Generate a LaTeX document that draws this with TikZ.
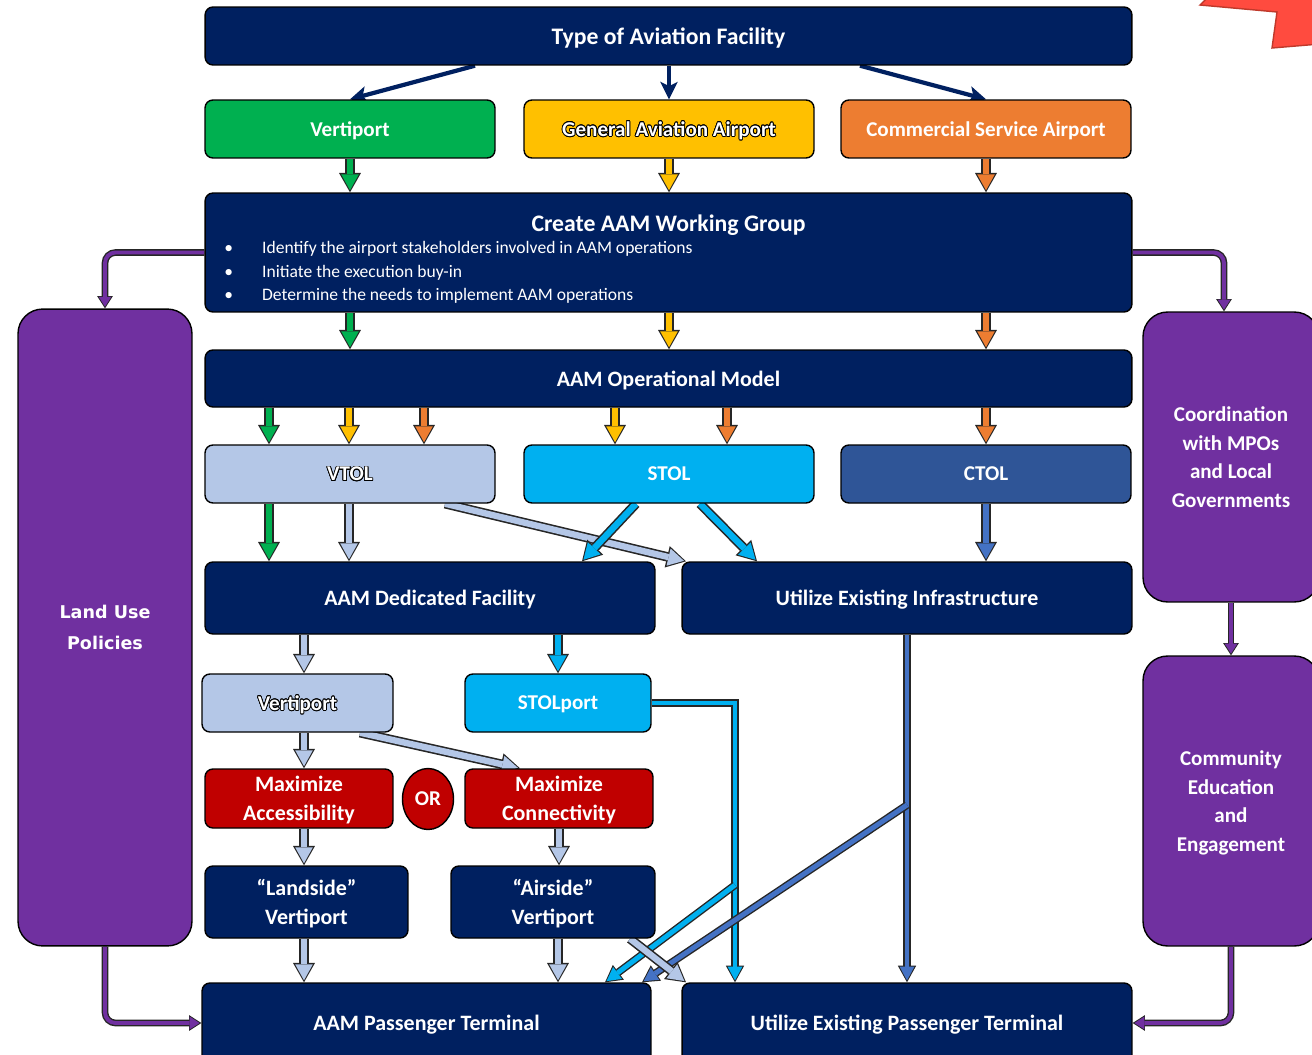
\documentclass[tikz,border=0pt]{standalone}
\usepackage{fontspec}
\setmainfont{Carlito}
\newfontfamily\landfont{DejaVu Sans}
\usepackage{xcolor}
\usepackage[copies]{contour}
\contourlength{0.45pt}
\usepackage{tikz}
\usetikzlibrary{arrows.meta}
\usetikzlibrary{shapes.geometric}
\usetikzlibrary{backgrounds}

\definecolor{navy}{HTML}{002060}
\definecolor{vgreen}{HTML}{00B050}
\definecolor{gayellow}{HTML}{FFC000}
\definecolor{csorange}{HTML}{ED7D31}
\definecolor{vlight}{HTML}{B4C7E7}
\definecolor{stolcyan}{HTML}{00B0F0}
\definecolor{ctolblue}{HTML}{2F5597}
\definecolor{ctolarrow}{HTML}{4472C4}
\definecolor{maxred}{HTML}{C00000}
\definecolor{purp}{HTML}{7030A0}
\definecolor{starred}{HTML}{FF4B3F}
\definecolor{starline}{HTML}{C0392B}

\newcommand{\ttlfont}{\bfseries\fontsize{13.5}{16}\selectfont}
\newcommand{\midfont}{\bfseries\fontsize{12.5}{16.4}\selectfont}
\newcommand{\boxfont}{\bfseries\fontsize{12}{16.4}\selectfont}
\newcommand{\itemfont}{\fontsize{10}{12}\selectfont}

% block arrow: dark outline first, coloured body on top
\newcommand{\blockarrow}[3][blk]{%
  \draw[#1out] #3;
  \draw[#1in, draw=#2] #3;}

\tikzset{
  box/.style={draw=black, line width=0.8pt, rounded corners=4.5pt, text=white,
    align=center, inner sep=0pt, text depth=0pt, font=\boxfont},
  row/.style={box, minimum width=5.8cm, minimum height=1.16cm},
  side/.style={box, fill=purp, rounded corners=14pt, minimum width=3.52cm, minimum height=5.8cm},
  item/.style={anchor=west, text=white, inner sep=0pt, font=\itemfont},
  navyarrow/.style={draw=navy, line width=2.4pt,
    -{Stealth[length=10pt,width=10pt,inset=2.5pt,line width=0pt]}},
  blkout/.style={line width=5.4pt, draw=black!85,
    -{Triangle[length=11pt,width=12.5pt,line width=0pt]}},
  blkin/.style={line width=3.6pt, shorten >=1.2pt,
    -{Triangle[length=9pt,width=10pt,line width=0pt]}},
  thinout/.style={line width=4.4pt, draw=black!85,
    -{Triangle[length=9.5pt,width=10.5pt,line width=0pt]}},
  thinin/.style={line width=2.8pt, shorten >=1.1pt,
    -{Triangle[length=7.8pt,width=8.4pt,line width=0pt]}},
  purout/.style={line width=3.8pt, draw=black!85, rounded corners=6pt,
    -{Triangle[length=7pt,width=9pt,line width=0pt]}},
  purin/.style={line width=2.2pt, rounded corners=6pt, shorten >=1pt,
    -{Triangle[length=5.6pt,width=7.2pt,line width=0pt]}},
}

\begin{document}
\begin{tikzpicture}[x=0.02cm, y=-0.02cm]
    \useasboundingbox (0,0) rectangle (1312,1055);

    % Corner shape
    \filldraw[fill=starred, draw=starline, line width=0.8pt] (1207,-2) -- (1200,5) -- (1277,12) -- (1272,48) -- (1320,44) -- (1320,-2) -- cycle;

    % Top of the tree
    \node[box, fill=navy, font=\ttlfont, minimum width=18.54cm, minimum height=1.16cm] (type) at (668.5,36) {Type of Aviation Facility};
    \node[row, fill=vgreen] (vport) at (350,129) {Vertiport};
    \node[row, fill=gayellow] (gaa) at (669,129) {\contour{black}{General Aviation Airport}};
    \node[row, fill=csorange] (csa) at (986,129) {Commercial Service Airport};

    % Working group
    \node[box, fill=navy, minimum width=18.54cm, minimum height=2.38cm] (wg) at (668.5,252.5) {};
    \node[text=white, font=\ttlfont, inner sep=0pt, text depth=0pt] (wgtitle) at (668.5,223) {Create AAM Working Group};
    \node[item] (wgitem1) at (224,249) {\makebox[21.5pt][l]{\textbullet}Identify the airport stakeholders involved in AAM operations};
    \node[item] (wgitem2) at (224,273) {\makebox[21.5pt][l]{\textbullet}Initiate the execution buy-in};
    \node[item] (wgitem3) at (224,296) {\makebox[21.5pt][l]{\textbullet}Determine the needs to implement AAM operations};

    % Operational model
    \node[box, fill=navy, font=\midfont, minimum width=18.54cm, minimum height=1.14cm] (aom) at (668.5,378.5) {AAM Operational Model};
    \node[row, fill=vlight] (vtol) at (350,474) {\contour{black}{VTOL}};
    \node[row, fill=stolcyan] (stol) at (669,474) {STOL};
    \node[row, fill=ctolblue] (ctol) at (986,474) {CTOL};

    % Facilities
    \node[box, fill=navy, font=\midfont, minimum width=9cm, minimum height=1.44cm] (adf) at (430,598) {AAM Dedicated Facility};
    \node[box, fill=navy, font=\midfont, minimum width=9cm, minimum height=1.44cm] (uei) at (907,598) {Utilize Existing Infrastructure};
    \node[box, fill=vlight, minimum width=3.82cm, minimum height=1.16cm] (vpt) at (297.5,703) {\contour{black}{Vertiport}};
    \node[box, fill=stolcyan, minimum width=3.72cm, minimum height=1.16cm] (stolpt) at (558,703) {STOLport};
    \node[box, fill=maxred, font=\midfont, minimum width=3.76cm, minimum height=1.18cm] (maxacc) at (299,798.5) {Maximize\\Accessibility};
    \node[ellipse, draw=black, line width=0.8pt, fill=maxred, text=white, font=\boxfont, inner sep=0pt, minimum width=1.02cm, minimum height=1.22cm] (orn) at (428,799) {OR};
    \node[box, fill=maxred, font=\midfont, minimum width=3.76cm, minimum height=1.18cm] (maxcon) at (559,798.5) {Maximize\\Connectivity};
    \node[box, fill=navy, font=\midfont, minimum width=4.06cm, minimum height=1.44cm] (landside) at (306.5,902) {``Landside''\\Vertiport};
    \node[box, fill=navy, font=\midfont, minimum width=4.08cm, minimum height=1.44cm] (airside) at (553,902) {``Airside''\\Vertiport};

    % Terminals
    \node[box, fill=navy, font=\midfont, minimum width=8.98cm, minimum height=1.6cm] (aampt) at (426.5,1023) {AAM Passenger Terminal};
    \node[box, fill=navy, font=\midfont, minimum width=9cm, minimum height=1.6cm] (uept) at (907,1023) {Utilize Existing Passenger Terminal};

    % Side columns
    \node[box, fill=purp, rounded corners=14pt, minimum width=3.48cm, minimum height=12.74cm, font={\landfont\bfseries\fontsize{10}{17.6}\selectfont}] (landuse) at (105,627.5) {Land Use\\Policies};
    \node[side] (coord) at (1231,457) {Coordination\\with MPOs\\and Local\\Governments};
    \node[side] (comm) at (1231,801) {Community\\Education\\and\\Engagement};

    \begin{scope}[on background layer]
    % Type -> kind of facility
    \draw[navyarrow] (475,0 |- type.south) -- (vport.north);
    \draw[navyarrow] (type.south -| gaa.north) -- (gaa.north);
    \draw[navyarrow] (860,0 |- type.south) -- (csa.north);

    % Kind of facility -> working group -> operational model
    \blockarrow{vgreen}{(vport.south) -- (vport.south |- wg.north)}
    \blockarrow{gayellow}{(gaa.south) -- (gaa.south |- wg.north)}
    \blockarrow{csorange}{(csa.south) -- (csa.south |- wg.north)}
    \blockarrow{vgreen}{(vport.south |- wg.south) -- (vport.south |- aom.north)}
    \blockarrow{gayellow}{(gaa.south |- wg.south) -- (gaa.south |- aom.north)}
    \blockarrow{csorange}{(csa.south |- wg.south) -- (csa.south |- aom.north)}

    % Operational model -> aircraft
    \blockarrow{vgreen}{(269,0 |- aom.south) -- (269,0 |- vtol.north)}
    \blockarrow{gayellow}{(349,0 |- aom.south) -- (349,0 |- vtol.north)}
    \blockarrow{csorange}{(424,0 |- aom.south) -- (424,0 |- vtol.north)}
    \blockarrow{gayellow}{(615,0 |- aom.south) -- (615,0 |- stol.north)}
    \blockarrow{csorange}{(727,0 |- aom.south) -- (727,0 |- stol.north)}
    \blockarrow{csorange}{(aom.south -| ctol.north) -- (ctol.north)}

    % Aircraft -> facilities
    \blockarrow{vgreen}{(269,0 |- vtol.south) -- (269,0 |- adf.north)}
    \blockarrow{vlight}{(349,0 |- vtol.south) -- (349,0 |- adf.north)}
    \blockarrow{vlight}{(445,0 |- vtol.south) -- (686,0 |- uei.north)}
    \blockarrow{stolcyan}{(636,0 |- stol.south) -- (582,0 |- adf.north)}
    \blockarrow{stolcyan}{(700,0 |- stol.south) -- (757,0 |- uei.north)}
    \blockarrow{ctolarrow}{(ctol.south) -- (ctol.south |- uei.north)}

    % Dedicated facility chain
    \blockarrow{vlight}{(304,0 |- adf.south) -- (304,0 |- vpt.north)}
    \blockarrow{stolcyan}{(stolpt.north |- adf.south) -- (stolpt.north)}
    \blockarrow{vlight}{(304,0 |- vpt.south) -- (304,0 |- maxacc.north)}
    \blockarrow{vlight}{(360,0 |- vpt.south) -- (520,0 |- maxcon.north)}
    \blockarrow{vlight}{(304,0 |- maxacc.south) -- (304,0 |- landside.north)}
    \blockarrow{vlight}{(maxcon.south) -- (maxcon.south |- airside.north)}
    \blockarrow{vlight}{(304,0 |- landside.south) -- (304,0 |- aampt.north)}
    \blockarrow{vlight}{(558,0 |- airside.south) -- (558,0 |- aampt.north)}

    % Long runs down to the terminals
    \coordinate (cybr) at (735,885);
    \coordinate (blbr) at (907,805);
    \blockarrow[thin]{stolcyan}{(stolpt.east) -| (735,0 |- uept.north)}
    \blockarrow[thin]{stolcyan}{(cybr) -- (605,0 |- aampt.north)}
    \blockarrow[thin]{ctolarrow}{(uei.south) -- (uei.south |- uept.north)}
    \blockarrow[thin]{ctolarrow}{(blbr) -- (642,0 |- aampt.north)}
    \blockarrow{vlight}{(630,0 |- airside.south) -- (686,0 |- uept.north)}

    % Side columns
    \blockarrow[pur]{purp}{(wg.west) -| (landuse.north)}
    \blockarrow[pur]{purp}{(wg.east) -| (1224,0 |- coord.north)}
    \blockarrow[pur]{purp}{(coord.south) -- (comm.north)}
    \blockarrow[pur]{purp}{(landuse.south) |- (aampt.west)}
    \blockarrow[pur]{purp}{(comm.south) |- (uept.east)}
    \end{scope}
\end{tikzpicture}
\end{document}
